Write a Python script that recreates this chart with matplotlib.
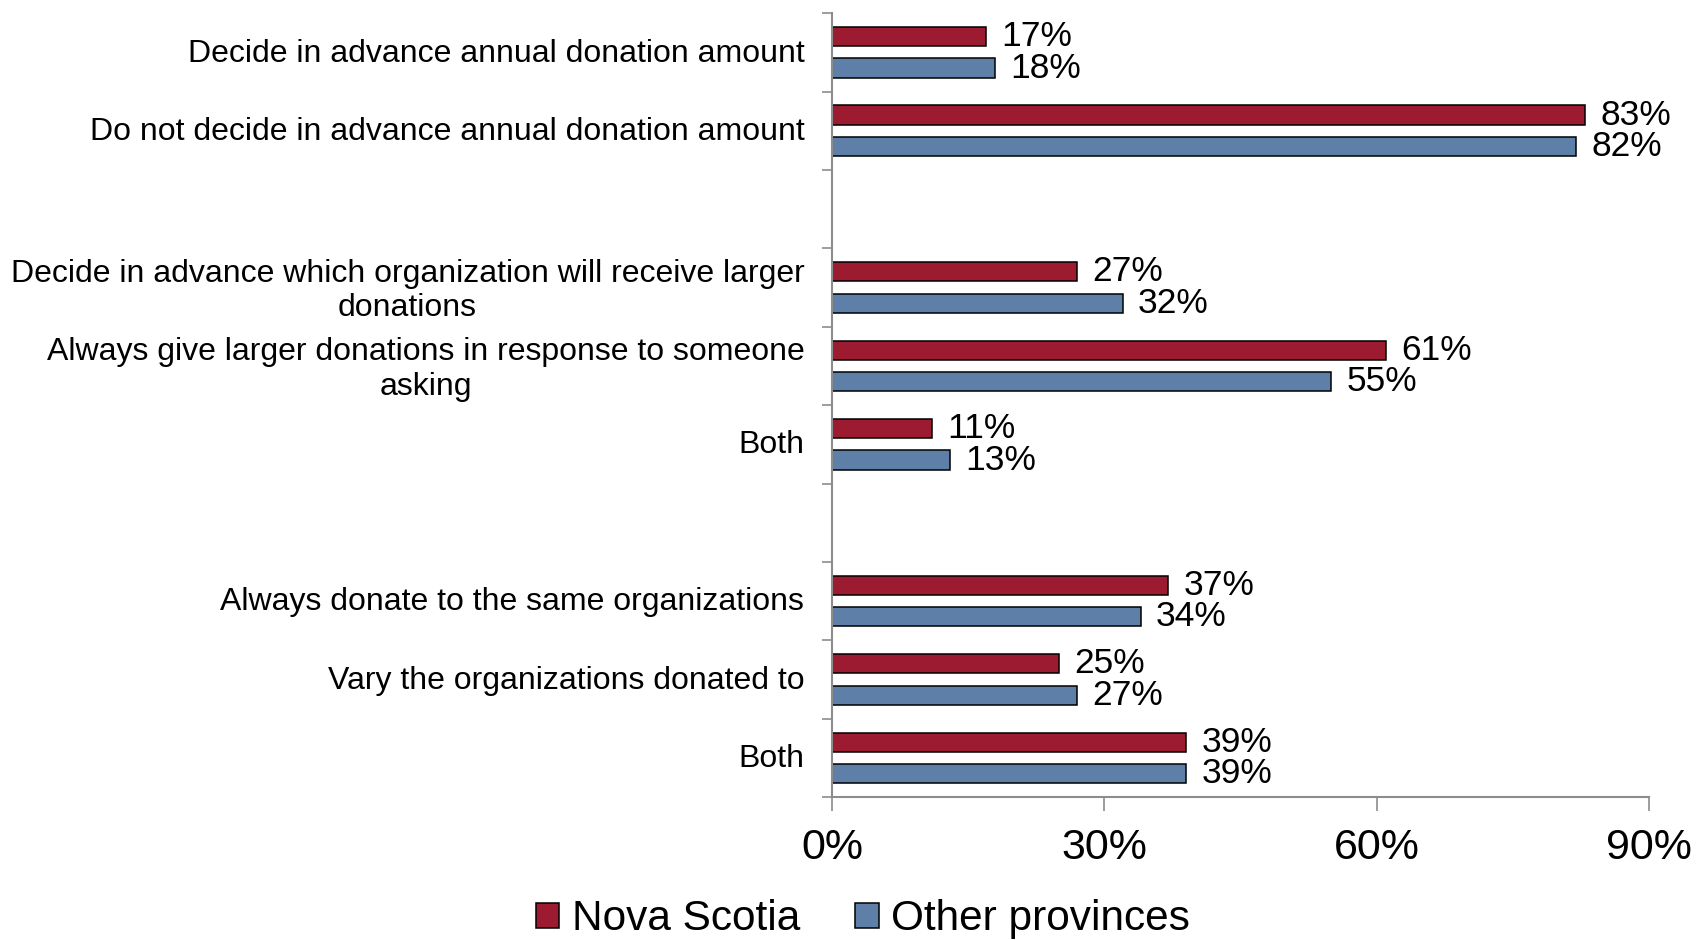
import numpy as np
import matplotlib
matplotlib.use("Agg")
import matplotlib.pyplot as plt
from matplotlib.ticker import FixedLocator

plt.rcParams['font.family'] = ['Liberation Sans', 'DejaVu Sans']

# empty strings mark the blank gap rows between the three question groups
categories = [
    "Decide in advance annual donation amount",
    "Do not decide in advance annual donation amount",
    "",
    "Decide in advance which organization will receive larger\ndonations",
    "Always give larger donations in response to someone\nasking",
    "Both",
    "",
    "Always donate to the same organizations",
    "Vary the organizations donated to",
    "Both",
]
nova_scotia = [17, 83, np.nan, 27, 61, 11, np.nan, 37, 25, 39]
other_provinces = [18, 82, np.nan, 32, 55, 13, np.nan, 34, 27, 39]
x_ticks = [0, 30, 60, 90]

red = "#9C1B31"
blue = "#5E80A8"
grey = "#8C8C8C"

fig = plt.figure(figsize=(16.96, 9.40), dpi=100)
ax = fig.add_axes([0.4906, 0.152, 0.4817, 0.834])

y = np.arange(len(categories))
off = 0.2
h = 0.245
ax.barh(y - off, nova_scotia, height=h, color=red, edgecolor="black", linewidth=1.1, label="Nova Scotia")
ax.barh(y + off, other_provinces, height=h, color=blue, edgecolor="black", linewidth=1.1, label="Other provinces")

for i in range(len(categories)):
    for vals, dy in ((nova_scotia, -off), (other_provinces, off)):
        v = vals[i]
        if np.isnan(v):
            continue
        ax.annotate(f"{v:.0f}%", (v, i + dy), xytext=(11, 0), textcoords="offset points",
                    ha="left", va="center", fontsize=25.5)

ax.set_xlim(0, 90)
ax.set_ylim(len(categories) - 0.5, -0.5)

ax.set_xticks(x_ticks)
ax.set_xticklabels([f"{t}%" for t in x_ticks], fontsize=31)
ax.tick_params(axis="x", length=10, width=1.2, color=grey, pad=12)

# boundary ticks between rows, labels on the row centres
ax.yaxis.set_major_locator(FixedLocator(np.arange(len(categories) + 1) - 0.5))
ax.yaxis.set_major_formatter(plt.NullFormatter())
ax.set_yticks(y - 0.03, minor=True)
ax.set_yticklabels(categories, minor=True, fontsize=23)
ax.tick_params(axis="y", which="major", length=7, width=1.2, color=grey)
ax.tick_params(axis="y", which="minor", length=0, pad=20)
for lab in ax.get_yticklabels(minor=True):
    lab.set_multialignment("center")

for s in ("top", "right"):
    ax.spines[s].set_visible(False)
for s in ("left", "bottom"):
    ax.spines[s].set_color(grey)
    ax.spines[s].set_linewidth(1.5)

fig.legend(loc="center", bbox_to_anchor=(0.509, 0.022), ncol=2, frameon=False,
           fontsize=30.5, handlelength=0.55, handleheight=0.55, handletextpad=0.3,
           columnspacing=1.3)

fig.savefig("out.png", dpi=100)
